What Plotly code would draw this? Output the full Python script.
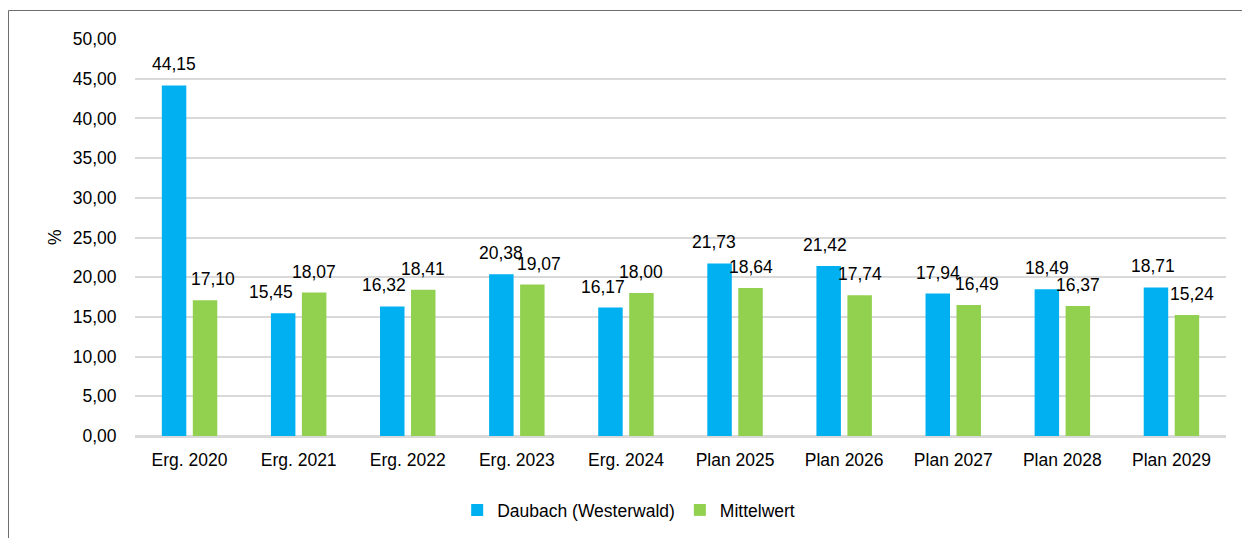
import plotly.graph_objects as go

categories = ["Erg. 2020", "Erg. 2021", "Erg. 2022", "Erg. 2023", "Erg. 2024",
              "Plan 2025", "Plan 2026", "Plan 2027", "Plan 2028", "Plan 2029"]
daubach = [44.15, 15.45, 16.32, 20.38, 16.17, 21.73, 21.42, 17.94, 18.49, 18.71]
mittelwert = [17.10, 18.07, 18.41, 19.07, 18.00, 18.64, 17.74, 16.49, 16.37, 15.24]
y_ticks = [0, 5, 10, 15, 20, 25, 30, 35, 40, 45, 50]

# label nudges (px) used in the original to avoid overlapping data labels
nudge_daubach = [0, -12, -8, 0, -7, -6, -4, 0, 0, -3]
nudge_mittel = [8, 0, 0, 7, 0, 0, 0, 8, 0, 5]

FONT = "Liberation Sans, Arial, sans-serif"
FS = 17.5
BLUE = "#00B0F0"
GREEN = "#92D050"

# The page body has an 8px margin; layout is expressed in figure pixels.
W, H = 1242, 530
ML, MR, MT, MB = 127, 24, 31, 102
PW = W - ML - MR
PH = H - MT - MB
BAR_OFF = 15.5


def fmt(v):
    return f"{v:.2f}".replace(".", ",")


fig = go.Figure()
fig.add_trace(go.Bar(name="Daubach (Westerwald)", x=categories, y=daubach,
                     marker=dict(color=BLUE, line=dict(width=0))))
fig.add_trace(go.Bar(name="Mittelwert", x=categories, y=mittelwert,
                     marker=dict(color=GREEN, line=dict(width=0))))

annotations = []
for cat, v, dx in zip(categories, daubach, nudge_daubach):
    annotations.append(dict(x=cat, y=v, xref="x", yref="y", text=fmt(v),
                            showarrow=False, xanchor="center", yanchor="bottom",
                            xshift=-BAR_OFF + dx, yshift=9,
                            font=dict(size=FS, color="#000000")))
for cat, v, dx in zip(categories, mittelwert, nudge_mittel):
    annotations.append(dict(x=cat, y=v, xref="x", yref="y", text=fmt(v),
                            showarrow=False, xanchor="center", yanchor="bottom",
                            xshift=BAR_OFF + dx, yshift=9,
                            font=dict(size=FS, color="#000000")))
annotations.append(dict(text="%", xref="paper", yref="paper",
                        x=(55 - 8 - ML) / PW, y=(436 - 237) / PH,
                        xanchor="center", yanchor="middle",
                        showarrow=False, textangle=-90, font=dict(size=FS)))

fig.update_layout(
    width=W, height=H,
    margin=dict(l=ML, r=MR, t=MT, b=MB, autoexpand=False),
    paper_bgcolor="white", plot_bgcolor="white",
    font=dict(family=FONT, size=FS, color="#000000"),
    separators=",.",
    barmode="group", bargap=0.432, bargroupgap=0.21,
    showlegend=True,
    legend=dict(orientation="h", x=0.4525, xanchor="center",
                y=-(510 - 436) / PH, yanchor="middle",
                font=dict(size=FS), itemwidth=30),
    xaxis=dict(showgrid=False, showline=False, ticks="outside", ticklen=8,
               tickcolor="rgba(0,0,0,0)", zeroline=False, automargin=False),
    yaxis=dict(range=[0, 50], tickvals=y_ticks, tickformat=".2f",
               showgrid=True, gridcolor="#d9d9d9", gridwidth=2,
               zeroline=True, zerolinecolor="#d9d9d9", zerolinewidth=3,
               showline=False, ticks="outside", ticklen=14,
               tickcolor="rgba(0,0,0,0)", automargin=False),
    annotations=annotations,
    shapes=[dict(type="rect", xref="paper", yref="paper",
                 x0=(0.5 - ML) / PW, x1=2.0,
                 y0=-1.0, y1=(428 - 2.5) / PH,
                 line=dict(color="#6e6e6e", width=1), fillcolor="rgba(0,0,0,0)",
                 layer="below")],
)

fig.write_html("out.html")
